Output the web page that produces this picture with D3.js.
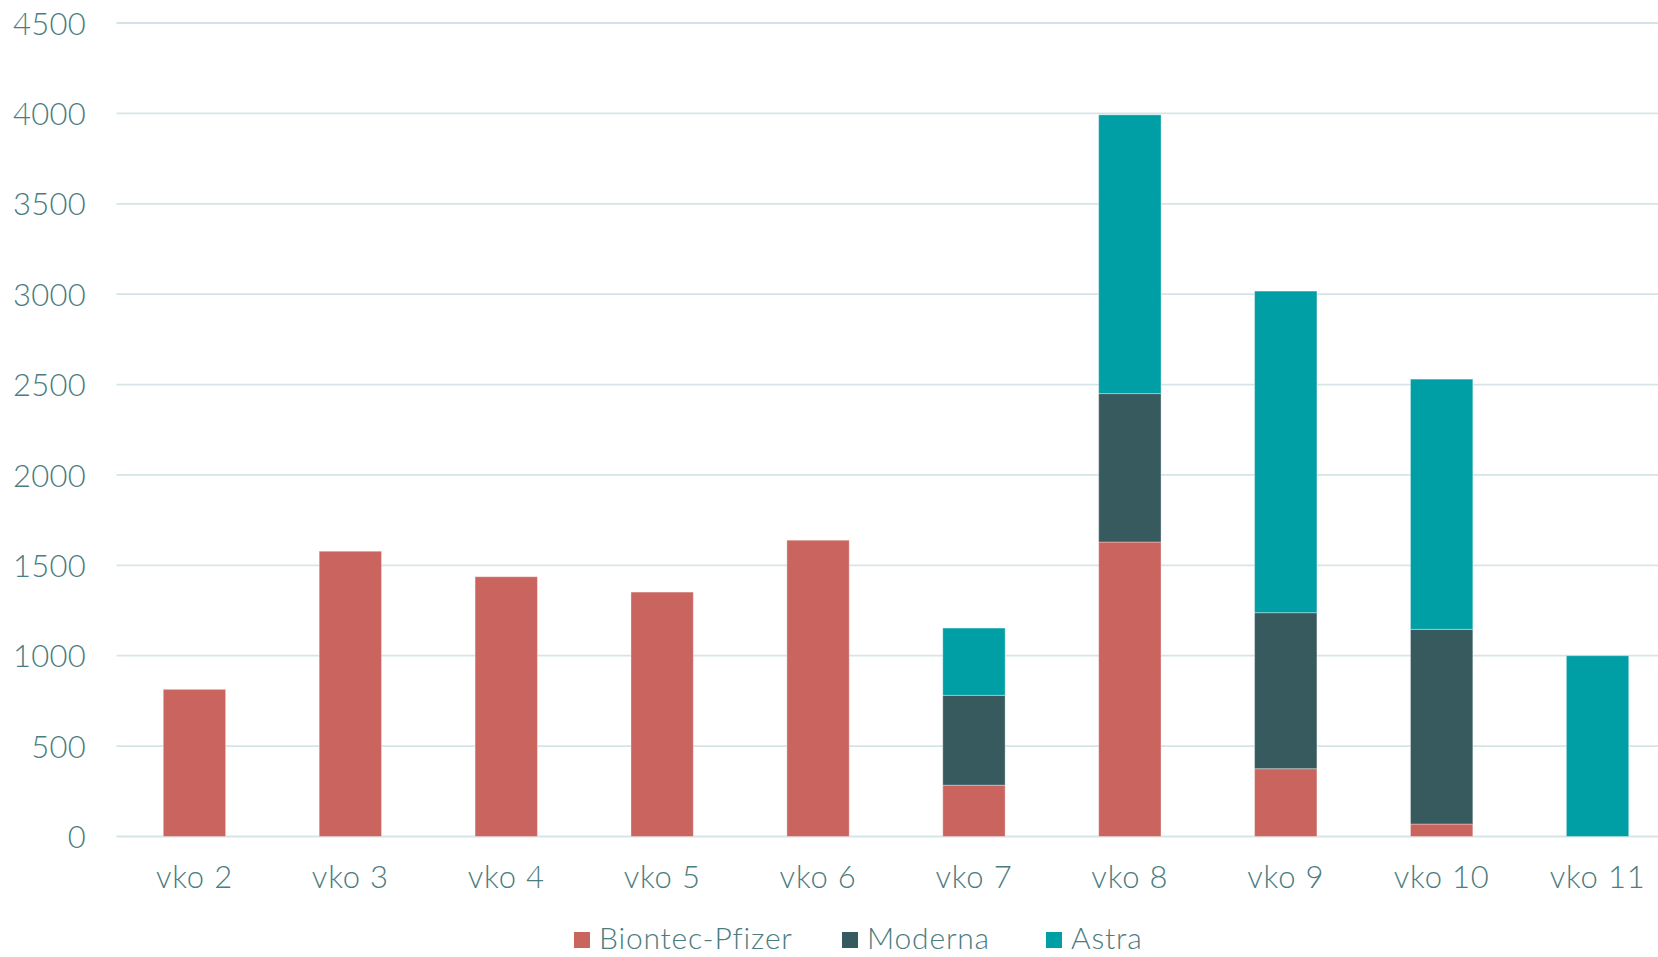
<!DOCTYPE html>
<html>
<head>
<meta charset="utf-8">
<script src="https://cdn.jsdelivr.net/npm/d3@7"></script>
<style>
  html, body { margin: 0; padding: 0; background: #ffffff; }
  svg { display: block; }
  text { font-family: Lato, "Open Sans", sans-serif; fill: #4A7C80; font-weight: 300; letter-spacing: 0.8px; }
</style>
</head>
<body>
<svg id="chart" width="1658" height="957"></svg>
<script>
const categories = ["vko 2", "vko 3", "vko 4", "vko 5", "vko 6", "vko 7", "vko 8", "vko 9", "vko 10", "vko 11"];
const seriesNames = ["Biontec-Pfizer", "Moderna", "Astra"];
const pfizer  = [814, 1578, 1437, 1352, 1639, 284, 1629, 375, 69, 0];
const moderna = [0, 0, 0, 0, 0, 497, 821, 863, 1077, 0];
const astra   = [0, 0, 0, 0, 0, 372, 1542, 1779, 1384, 1000];
const yTicks  = [0, 500, 1000, 1500, 2000, 2500, 3000, 3500, 4000, 4500];
const colors  = ["#C9655E", "#375A5E", "#009EA5"];

const svg = d3.select("#chart");

const x = d3.scaleBand()
  .domain(categories)
  .range([116.5, 116.5 + 155.9 * categories.length])
  .paddingInner(0.6)
  .paddingOuter(0.3);

const y = d3.scaleLinear().domain([0, 4500]).range([836.5, 23]);

// gridlines
svg.append("g")
  .selectAll("line")
  .data(yTicks)
  .join("line")
  .attr("x1", 116.5)
  .attr("x2", 1658)
  .attr("y1", d => y(d))
  .attr("y2", d => y(d))
  .attr("stroke", "#D5E5E7")
  .attr("stroke-width", 1.8);

// y axis labels
const yAxis = d3.axisLeft(y).tickValues(yTicks).tickFormat(d3.format("d")).tickSize(0).tickPadding(0);
const gy = svg.append("g").attr("transform", "translate(86,0)").call(yAxis);
gy.select(".domain").remove();
gy.selectAll("text")
  .attr("font-size", 31)
  .attr("dy", "0.36em")
  .attr("font-family", null)
  .style("letter-spacing", "0.3px")
  .attr("fill", "#4A7C80");

// stacked data
const table = categories.map((c, i) => ({
  cat: c,
  "Biontec-Pfizer": pfizer[i],
  "Moderna": moderna[i],
  "Astra": astra[i]
}));
const stacked = d3.stack().keys(seriesNames)(table);

svg.append("g")
  .selectAll("g")
  .data(stacked)
  .join("g")
  .attr("fill", (d, i) => colors[i])
  .selectAll("rect")
  .data(d => d.filter(s => s[1] - s[0] > 0))
  .join("rect")
  .attr("x", d => x(d.data.cat))
  .attr("width", x.bandwidth())
  .attr("y", d => y(d[1]))
  .attr("height", d => y(d[0]) - y(d[1]))
  .attr("stroke", "rgba(255,255,255,0.35)")
  .attr("stroke-width", 1);

// x axis labels
const xAxis = d3.axisBottom(x).tickSize(0).tickPadding(0);
const gx = svg.append("g").attr("transform", "translate(0,888)").call(xAxis);
gx.select(".domain").remove();
gx.selectAll("text")
  .attr("font-size", 31)
  .attr("dy", 0)
  .attr("font-family", null)
  .attr("fill", "#4A7C80");

// legend
const legendX = [574, 842, 1046];
const lg = svg.append("g")
  .selectAll("g")
  .data(seriesNames)
  .join("g")
  .attr("transform", (d, i) => `translate(${legendX[i]},932)`);
lg.append("rect")
  .attr("width", 16)
  .attr("height", 16)
  .attr("fill", (d, i) => colors[i]);
lg.append("text")
  .attr("x", 25)
  .attr("y", 17)
  .attr("font-size", 30)
  .text(d => d);
</script>
</body>
</html>
